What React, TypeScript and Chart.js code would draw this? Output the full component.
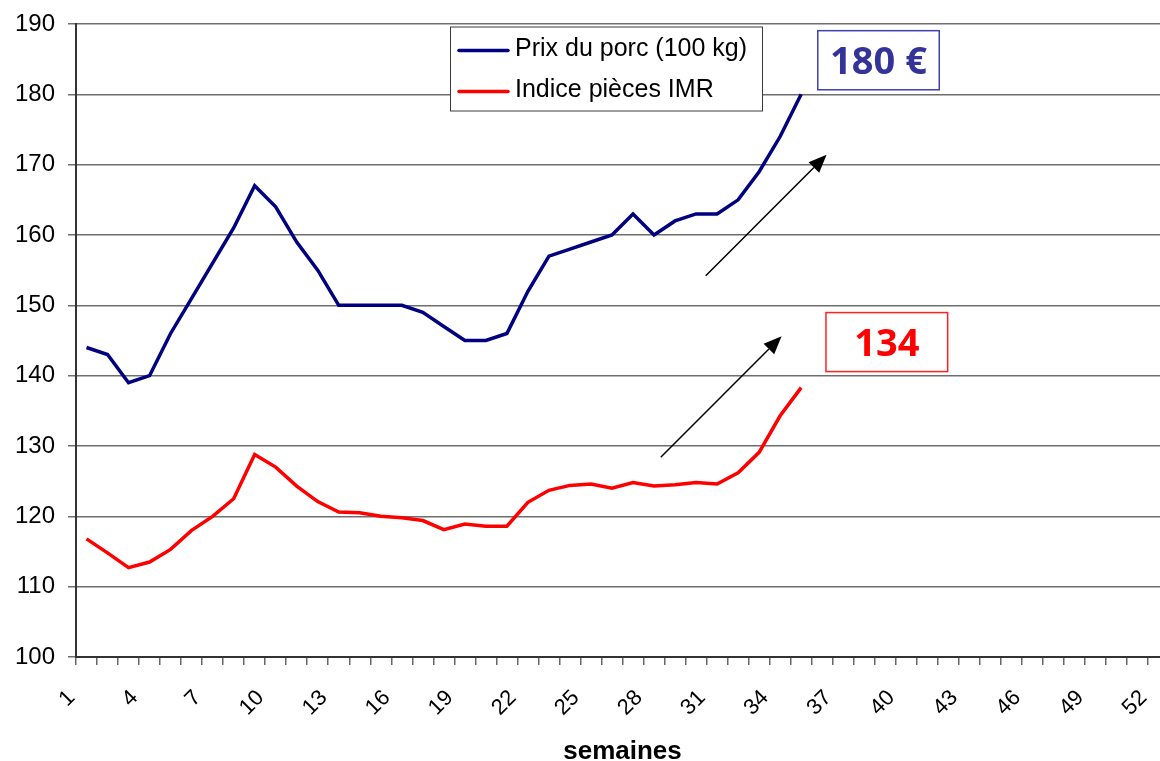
import React, { useEffect, useRef } from 'react';
import { Chart, registerables } from 'chart.js';

Chart.register(...registerables);

// ---- data ----
const weekLabels = [
  '1', '2', '3', '4', '5', '6', '7', '8', '9', '10', '11', '12', '13',
  '14', '15', '16', '17', '18', '19', '20', '21', '22', '23', '24', '25', '26',
  '27', '28', '29', '30', '31', '32', '33', '34', '35', '36', '37', '38', '39',
  '40', '41', '42', '43', '44', '45', '46', '47', '48', '49', '50', '51', '52',
];

const porkPrice = [
  144, 143, 139, 140, 146, 151, 156, 161, 167, 164, 159, 155, 150, 150, 150,
  150, 149, 147, 145, 145, 146, 152, 157, 158, 159, 160, 163, 160, 162, 163,
  163, 165, 169, 174, 180,
];

const imrIndex = [
  116.8, 114.8, 112.7, 113.5, 115.3, 118.0, 120.0, 122.5, 128.8, 127.0, 124.3,
  122.1, 120.6, 120.5, 120.0, 119.8, 119.4, 118.1, 118.9, 118.6, 118.6, 122.0,
  123.7, 124.4, 124.6, 124.0, 124.8, 124.3, 124.5, 124.8, 124.6, 126.2, 129.1,
  134.3, 138.3,
];

const seriesNames = ['Prix du porc (100 kg)', 'Indice pièces IMR'];
const axisTitle = 'semaines';
const yMin = 100;
const yMax = 190;
const yStep = 10;
const labelEvery = 3;

const calloutTexts = ['180 €', '134'];

// annotation anchors in data coordinates: [catIndexFrom, valueFrom, catIndexTo, valueTo]
const arrowUpper = [29.46, 154.2, 35.21, 171.4];
const arrowLower = [27.32, 128.4, 33.07, 145.6];
// callout boxes: [catIndexLeft, valueTop, catIndexRight, valueBottom]
const boxUpper = [34.79, 189.05, 40.57, 180.65];
const boxLower = [35.18, 148.97, 40.97, 140.58];

const BLUE = '#000080';
const RED = '#ff0000';
const CALLOUT_BLUE = '#333399';

function drawArrow(ctx: CanvasRenderingContext2D, x1: number, y1: number, x2: number, y2: number) {
  const ang = Math.atan2(y2 - y1, x2 - x1);
  const headLen = 18;
  const headHalf = 7.5;
  const bx = x2 - headLen * Math.cos(ang);
  const by = y2 - headLen * Math.sin(ang);
  ctx.save();
  ctx.strokeStyle = '#000';
  ctx.fillStyle = '#000';
  ctx.lineWidth = 1.5;
  ctx.beginPath();
  ctx.moveTo(x1, y1);
  ctx.lineTo(bx, by);
  ctx.stroke();
  ctx.beginPath();
  ctx.moveTo(x2, y2);
  ctx.lineTo(bx + headHalf * Math.sin(ang), by - headHalf * Math.cos(ang));
  ctx.lineTo(bx - headHalf * Math.sin(ang), by + headHalf * Math.cos(ang));
  ctx.closePath();
  ctx.fill();
  ctx.restore();
}

const overlayPlugin = {
  id: 'overlay',
  afterDatasetsDraw(chart: any) {
    const { ctx, scales } = chart;
    const x = scales.x;
    const y = scales.y;
    const px = (v: number) => x.getPixelForValue(v);
    const py = (v: number) => y.getPixelForValue(v);

    drawArrow(ctx, px(arrowUpper[0]), py(arrowUpper[1]), px(arrowUpper[2]), py(arrowUpper[3]));
    drawArrow(ctx, px(arrowLower[0]), py(arrowLower[1]), px(arrowLower[2]), py(arrowLower[3]));

    const boxes = [
      { b: boxUpper, color: CALLOUT_BLUE, border: '#4040b0', text: calloutTexts[0] },
      { b: boxLower, color: RED, border: '#ff2020', text: calloutTexts[1] },
    ];
    boxes.forEach(({ b, color, border, text }) => {
      const l = px(b[0]);
      const t = py(b[1]);
      const r = px(b[2]);
      const bt = py(b[3]);
      ctx.save();
      ctx.fillStyle = '#fff';
      ctx.fillRect(l, t, r - l, bt - t);
      ctx.strokeStyle = border;
      ctx.lineWidth = 1.5;
      ctx.strokeRect(l, t, r - l, bt - t);
      ctx.fillStyle = color;
      ctx.font = "bold 38px 'Noto Sans'";
      ctx.textAlign = 'center';
      ctx.textBaseline = 'alphabetic';
      ctx.fillText(text, (l + r) / 2, (t + bt) / 2 + 13.5);
      ctx.restore();
    });

    // legend
    const area = chart.chartArea;
    const lx = area.left + 374;
    const ly = area.top + 2.5;
    const lw = 312;
    const lh = 84;
    ctx.save();
    ctx.fillStyle = '#fff';
    ctx.fillRect(lx, ly, lw, lh);
    ctx.strokeStyle = '#3a3a3a';
    ctx.lineWidth = 1;
    ctx.strokeRect(lx + 0.5, ly + 0.5, lw, lh);
    const colors = [BLUE, RED];
    seriesNames.forEach((name, i) => {
      const rowY = ly + 24 + i * 41;
      ctx.strokeStyle = colors[i];
      ctx.lineWidth = 3.5;
      ctx.lineCap = 'round';
      ctx.beginPath();
      ctx.moveTo(lx + 9, rowY);
      ctx.lineTo(lx + 58, rowY);
      ctx.stroke();
      ctx.fillStyle = '#000';
      ctx.font = "25px 'Liberation Sans', Arial, sans-serif";
      ctx.textAlign = 'left';
      ctx.textBaseline = 'alphabetic';
      ctx.fillText(name, lx + 65, rowY + 5.5);
    });
    ctx.restore();
  },
};

export default function App() {
  const canvasRef = useRef<HTMLCanvasElement | null>(null);

  useEffect(() => {
    const canvas = canvasRef.current;
    if (!canvas) return;
    const chart = new Chart(canvas, {
      type: 'line',
      data: {
        labels: weekLabels,
        datasets: [
          {
            label: seriesNames[0],
            data: porkPrice,
            borderColor: BLUE,
            backgroundColor: BLUE,
            borderWidth: 3.5,
            pointRadius: 0,
            tension: 0,
            fill: false,
          },
          {
            label: seriesNames[1],
            data: imrIndex,
            borderColor: RED,
            backgroundColor: RED,
            borderWidth: 3.5,
            pointRadius: 0,
            tension: 0,
            fill: false,
          },
        ],
      },
      options: {
        responsive: false,
        animation: false,
        devicePixelRatio: 1,
        layout: { padding: { top: 24, right: 0, bottom: 0, left: 0 } },
        plugins: {
          legend: { display: false },
          tooltip: { enabled: false },
        },
        scales: {
          x: {
            type: 'category',
            offset: true,
            grid: {
              display: true,
              drawOnChartArea: false,
              drawTicks: true,
              tickLength: 8,
              offset: true,
              color: '#666',
              lineWidth: 1.5,
            },
            border: { display: true, color: '#333', width: 2 },
            ticks: {
              autoSkip: false,
              maxRotation: 45,
              minRotation: 45,
              labelOffset: -15,
              padding: 20,
              color: '#000',
              font: { family: "'Liberation Sans', Arial, sans-serif", size: 22 },
              callback: (_v: any, i: number) => (i % labelEvery === 0 ? weekLabels[i] : ''),
            },
            title: {
              display: true,
              text: axisTitle,
              color: '#000',
              font: { family: "'Liberation Sans', Arial, sans-serif", size: 26, weight: 'bold' },
              padding: { top: 0, bottom: -6 },
            },
            afterFit: (scale: any) => {
              scale.height = 104;
              scale.paddingLeft = 0;
              scale.paddingRight = 0;
            },
          },
          y: {
            min: yMin,
            max: yMax,
            grid: {
              color: '#6e6e6e',
              lineWidth: 1.5,
              drawTicks: true,
              tickLength: 8,
            },
            border: { display: true, color: '#333', width: 2 },
            ticks: {
              stepSize: yStep,
              padding: 13,
              color: '#000',
              font: { family: "'Liberation Sans', Arial, sans-serif", size: 24 },
            },
            afterFit: (scale: any) => {
              scale.width = 76;
              scale.paddingTop = 0;
              scale.paddingBottom = 0;
            },
          },
        },
      },
      plugins: [overlayPlugin],
    } as any);
    return () => chart.destroy();
  }, []);

  return (
    <div
      style={{
        position: 'absolute',
        left: 0,
        top: 0,
        width: 1160,
        height: 761,
        overflow: 'hidden',
        background: '#fff',
      }}
    >
      <canvas ref={canvasRef} width={1169} height={761} style={{ display: 'block', width: 1169, height: 761 }} />
    </div>
  );
}
